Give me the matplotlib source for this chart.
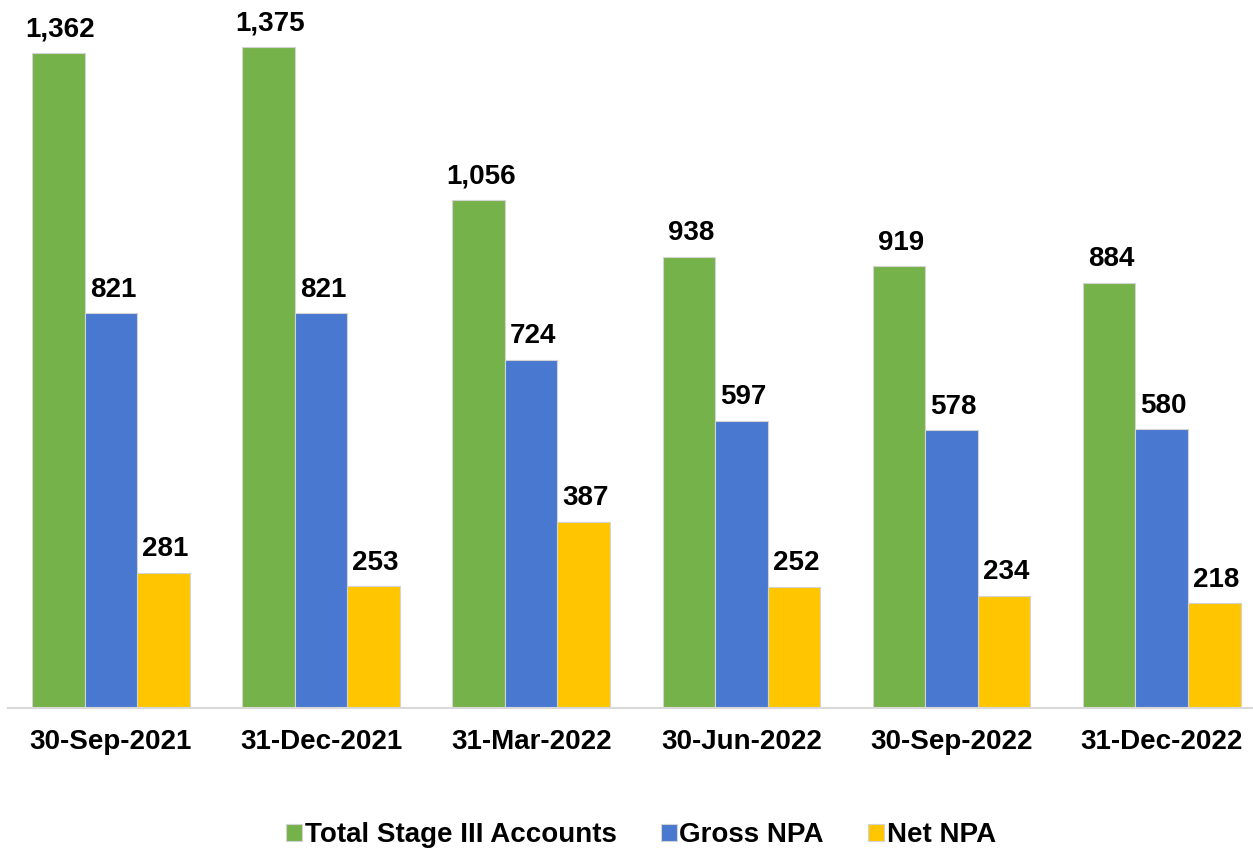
import matplotlib.pyplot as plt
import numpy as np

plt.rcParams['font.family'] = ['Liberation Sans', 'DejaVu Sans']

# dados do grafico
datas = ['30-Sep-2021', '31-Dec-2021', '31-Mar-2022', '30-Jun-2022', '30-Sep-2022', '31-Dec-2022']
total_stage3 = [1362, 1375, 1056, 938, 919, 884]
gross_npa = [821, 821, 724, 597, 578, 580]
net_npa = [281, 253, 387, 252, 234, 218]
nomes = ['Total Stage III Accounts', 'Gross NPA', 'Net NPA']
cores = ['#76B24A', '#4878CF', '#FFC600']

fig = plt.figure(figsize=(12.53, 8.51), dpi=100)
ax = fig.add_axes([8/1253, 1-708/851, 1-8/1253, 708/851])

x = np.arange(len(datas))
w = 0.25
series = [total_stage3, gross_npa, net_npa]
for i, vals in enumerate(series):
    barras = ax.bar(x + (i-1)*w, vals, w, color=cores[i], edgecolor='#D3D3D3',
                    linewidth=0.8, label=nomes[i])
    for b, v in zip(barras, vals):
        ax.annotate(f'{v:,}', (b.get_x()+b.get_width()/2, v), xytext=(1.5, 12),
                    textcoords='offset points', ha='center', va='baseline',
                    fontsize=20, fontweight='bold')

ax.set_xlim(-0.489, 5.434)
ax.set_ylim(0, 1473)
ax.set_xticks(x)
ax.set_xticklabels(datas, fontsize=20, fontweight='bold')
ax.tick_params(axis='x', length=0, pad=15)
ax.set_yticks([])
for s in ['top', 'right', 'left']:
    ax.spines[s].set_visible(False)
ax.spines['bottom'].set_color('#D9D9D9')
ax.spines['bottom'].set_linewidth(1.5)

fig.legend(loc='center', bbox_to_anchor=(641/1253, 1-835/851), ncol=3, frameon=False,
           prop={'size': 20, 'weight': 'bold'}, handlelength=0.56, handleheight=0.56,
           handletextpad=0.1, columnspacing=1.6)

fig.savefig('out.png', dpi=100)
